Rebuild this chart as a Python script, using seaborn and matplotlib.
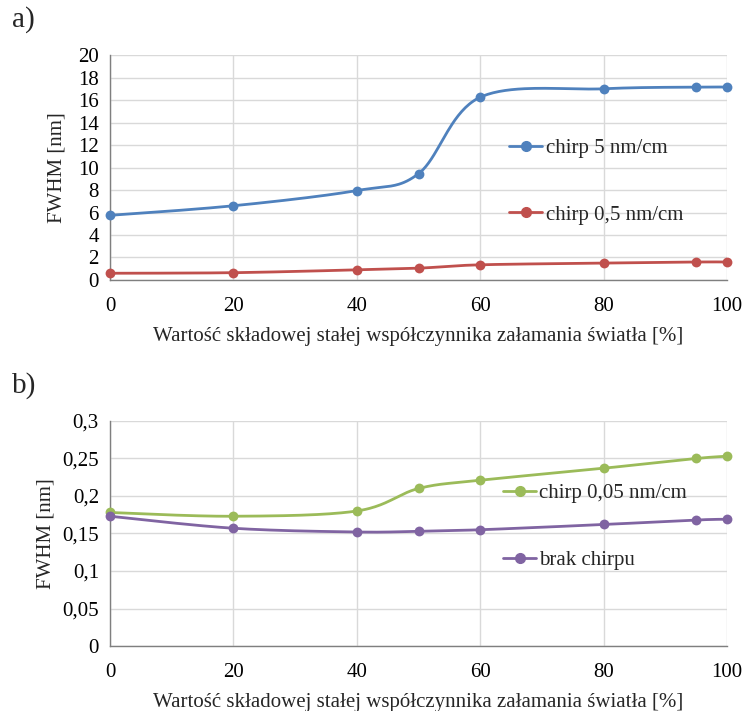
import numpy as np
import pandas as pd
import matplotlib
matplotlib.use("Agg")
import matplotlib.pyplot as plt
from matplotlib.lines import Line2D
import seaborn as sns

# ---- data ----
x_vals = [0, 20, 40, 50, 60, 80, 95, 100]
chirp5 = [5.75, 6.6, 7.95, 9.45, 16.25, 17.0, 17.15, 17.15]
chirp05 = [0.6, 0.65, 0.9, 1.05, 1.35, 1.5, 1.6, 1.6]
chirp005 = [0.178, 0.173, 0.180, 0.210, 0.221, 0.237, 0.250, 0.253]
brak = [0.173, 0.157, 0.152, 0.153, 0.155, 0.162, 0.168, 0.169]

labels_a = ["chirp 5 nm/cm", "chirp 0,5 nm/cm"]
labels_b = ["chirp 0,05 nm/cm", "brak chirpu"]
xticks = [0, 20, 40, 60, 80, 100]
yticks_a = list(range(0, 21, 2))
yticks_b = [0, 0.05, 0.1, 0.15, 0.2, 0.25, 0.3]
yticklabels_b = ["0", "0,05", "0,1", "0,15", "0,2", "0,25", "0,3"]
xlabel = "Wartość składowej stałej współczynnika załamania światła [%]"
ylabel = "FWHM [nm]"

colors = {"blue": "#4F81BD", "red": "#C0504D", "green": "#9BBB59", "purple": "#8064A2"}

sns.set_theme(style="white")
plt.rcParams["font.family"] = ["Liberation Serif", "DejaVu Serif"]
FS = 15


def smooth(xs, ys, n=40):
    """Excel-style smoothed line (Catmull-Rom Bezier, tension 1/6)."""
    P = np.column_stack([xs, ys]).astype(float)
    m = len(P)
    out = []
    for i in range(m - 1):
        p0 = P[i - 1] if i > 0 else P[i]
        p1 = P[i]
        p2 = P[i + 1]
        p3 = P[i + 2] if i + 2 < m else P[i + 1]
        c1 = p1 + (p2 - p0) / 6.0
        c2 = p2 - (p3 - p1) / 6.0
        t = np.linspace(0, 1, n)[:, None]
        seg = ((1 - t) ** 3) * p1 + 3 * ((1 - t) ** 2) * t * c1 + 3 * (1 - t) * t ** 2 * c2 + t ** 3 * p2
        out.append(seg if i == 0 else seg[1:])
    out = np.vstack(out)
    return out[:, 0], out[:, 1]


def draw(ax, series, labels, cols, ylabelpad):
    handles = []
    for ys, lab, c in zip(series, labels, cols):
        sx, sy = smooth(x_vals, ys)
        sns.lineplot(x=sx, y=sy, ax=ax, color=c, lw=2.0, sort=False, estimator=None, zorder=3)
        sns.scatterplot(x=x_vals, y=ys, ax=ax, color=c, s=50, edgecolor=c, linewidth=0, zorder=4,
                        clip_on=False)
        handles.append(Line2D([0], [0], color=c, lw=2.0, marker="o", markersize=7))
    ax.set_xlim(0, 100)
    ax.set_xticks(xticks)
    ax.grid(True, color="#D9D9D9", lw=1.0)
    ax.set_axisbelow(True)
    for s in ["top", "right"]:
        ax.spines[s].set_visible(False)
    for s in ["left", "bottom"]:
        ax.spines[s].set_color("#7F7F7F")
        ax.spines[s].set_linewidth(1.0)
    ax.tick_params(axis="x", labelsize=FS, length=0, pad=12, colors="#000000")
    ax.tick_params(axis="y", labelsize=FS, length=0, pad=8, colors="#000000")
    ax.set_xlabel(xlabel, fontsize=FS, labelpad=8)
    ax.set_ylabel(ylabel, fontsize=FS, labelpad=ylabelpad)
    return handles


fig = plt.figure(figsize=(7.45, 7.11), dpi=100)
ax1 = fig.add_axes([0.1477, 0.6062, 0.8281, 0.3164])
ax2 = fig.add_axes([0.1477, 0.0914, 0.8281, 0.3165])

h1 = draw(ax1, [chirp5, chirp05], labels_a, [colors["blue"], colors["red"]], 8.5)
ax1.set_ylim(0, 20)
ax1.set_yticks(yticks_a)
ax1.legend(h1, labels_a, loc="upper left", bbox_to_anchor=(0.63, 0.675), frameon=False,
           fontsize=FS, labelspacing=2.25, handlelength=1.6, handletextpad=0.15, borderpad=0)

h2 = draw(ax2, [chirp005, brak], labels_b, [colors["green"], colors["purple"]], 5)
ax2.set_ylim(0, 0.3)
ax2.set_yticks(yticks_b)
ax2.set_yticklabels(yticklabels_b)
ax2.legend(h2, labels_b, loc="upper left", bbox_to_anchor=(0.62, 0.767), frameon=False,
           fontsize=FS, labelspacing=2.25, handlelength=1.6, handletextpad=0.15, borderpad=0)

fig.text(12 / 745, 1 - 20 / 711, "a)", fontsize=21, va="center", ha="left")
fig.text(12 / 745, 1 - 386 / 711, "b)", fontsize=21, va="center", ha="left")

fig.savefig("out.png", dpi=100, facecolor="white")
